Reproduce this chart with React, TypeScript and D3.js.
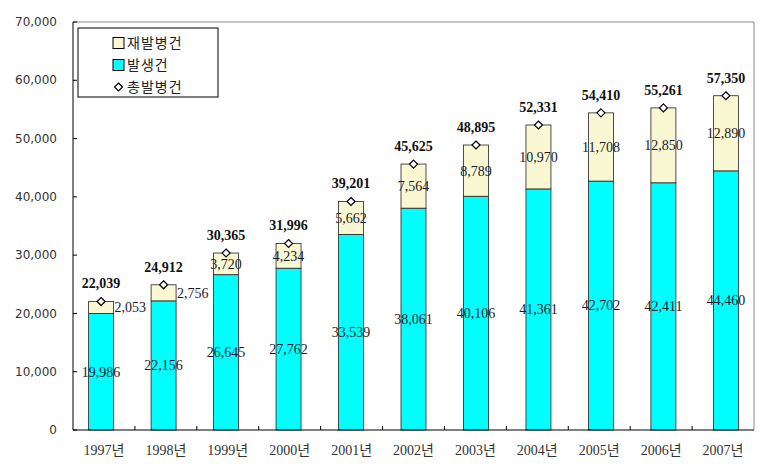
import React from "react";
import * as d3 from "d3";

const years = ["1997", "1998", "1999", "2000", "2001", "2002", "2003", "2004", "2005", "2006", "2007"];
const occurrence = [19986, 22156, 26645, 27762, 33539, 38061, 40106, 41361, 42702, 42411, 44460];
const recurrence = [2053, 2756, 3720, 4234, 5662, 7564, 8789, 10970, 11708, 12850, 12890];
const totals = [22039, 24912, 30365, 31996, 39201, 45625, 48895, 52331, 54410, 55261, 57350];
const yTicks = [0, 10000, 20000, 30000, 40000, 50000, 60000, 70000];
const legendLabels = ["재발병건", "발생건", "총발병건"];

const W = 770, H = 468;
const M = { left: 73, right: 754, top: 22, bottom: 430 };

const COL_BLUE = "#00FFFF";
const COL_YEL = "#FAF8D2";
const SERIF = "'Liberation Serif', 'Noto Sans CJK KR', serif";
const fmt = d3.format(",");

export default function App() {
  const x = d3.scaleBand<string>().domain(years).range([M.left, M.right]).paddingInner(0.6).paddingOuter(0.25);
  const xb = d3.scaleBand<string>().domain(years).range([M.left, M.right]);
  const y = d3.scaleLinear().domain([0, 70000]).range([M.bottom, M.top]);
  const bw = x.bandwidth();

  const dm = (cx: number, cy: number, r: number) =>
    `M${cx},${cy - r}L${cx + r},${cy}L${cx},${cy + r}L${cx - r},${cy}Z`;

  return (
    <svg width={W} height={H} style={{ position: "absolute", left: 0, top: 0, background: "#fff" }}>
      {/* plot border top/right */}
      <line x1={M.left} x2={M.right} y1={y(70000)} y2={y(70000)} stroke="#888" strokeWidth={1} />
      <line x1={M.right} x2={M.right} y1={y(70000)} y2={M.bottom} stroke="#888" strokeWidth={1} />

      {/* bars */}
      {years.map((yr, i) => {
        const x0 = x(yr)!;
        const cx = x0 + bw / 2;
        const yOcc = y(occurrence[i]);
        const yTot = y(occurrence[i] + recurrence[i]);
        const small = recurrence[i] < 3000;
        return (
          <g key={yr}>
            <rect x={x0} y={yOcc} width={bw} height={M.bottom - yOcc} fill={COL_BLUE} stroke="#222" strokeWidth={0.8} />
            <rect x={x0} y={yTot} width={bw} height={yOcc - yTot} fill={COL_YEL} stroke="#222" strokeWidth={0.8} />
            <text x={cx} y={y(occurrence[i] / 2)} dy="0.35em" textAnchor="middle" fontFamily={SERIF} fontSize={14} fill="#1a1a2a">
              {fmt(occurrence[i])}
            </text>
            <text
              x={small ? x0 + bw + 1 : cx}
              y={(yOcc + yTot) / 2}
              dy="0.35em"
              textAnchor={small ? "start" : "middle"}
              fontFamily={SERIF}
              fontSize={14}
              fill="#1a1a2a"
            >
              {fmt(recurrence[i])}
            </text>
            <path d={dm(cx, y(totals[i]), 4)} fill="#fff" stroke="#000" strokeWidth={1.2} />
            <text x={cx} y={y(totals[i]) - 18} dy="0.35em" textAnchor="middle" fontFamily={SERIF} fontSize={14} fontWeight="bold" fill="#111">
              {fmt(totals[i])}
            </text>
          </g>
        );
      })}

      {/* axes */}
      <line x1={M.left} x2={M.left} y1={y(70000)} y2={M.bottom} stroke="#000" strokeWidth={1} />
      <line x1={M.left} x2={M.right} y1={M.bottom} y2={M.bottom} stroke="#000" strokeWidth={1} />
      {yTicks.map((t) => (
        <g key={t}>
          <line x1={M.left} x2={M.left + 4} y1={y(t)} y2={y(t)} stroke="#000" />
          <text x={57} y={y(t)} dy="0.35em" textAnchor="end" fontFamily="'DejaVu Sans', sans-serif" fontSize={12} fill="#333">
            {fmt(t)}
          </text>
        </g>
      ))}
      {years.map((yr, i) =>
        i > 0 ? (
          <line key={"t" + yr} x1={xb(yr)!} x2={xb(yr)!} y1={M.bottom} y2={M.bottom - 4} stroke="#000" />
        ) : null
      )}
      {years.map((yr) => (
        <text key={"l" + yr} x={xb(yr)! + xb.bandwidth() / 2} y={450} dy="0.35em" textAnchor="middle" fontFamily={SERIF} fontSize={14} fill="#333">
          {yr}
          <tspan fontFamily="'Noto Sans CJK KR', sans-serif" fontSize={14}>년</tspan>
        </text>
      ))}

      {/* legend */}
      <rect x={78} y={28} width={140} height={69} fill="#fff" stroke="#000" strokeWidth={1} />
      {legendLabels.map((lab, i) => {
        const cy = 43 + i * 22;
        return (
          <g key={lab}>
            {i < 2 ? (
              <rect x={113} y={cy - 5.5} width={11} height={11} fill={i === 0 ? COL_YEL : COL_BLUE} stroke="#000" strokeWidth={1} />
            ) : (
              <path d={dm(118.5, cy, 4)} fill="#fff" stroke="#000" strokeWidth={1.2} />
            )}
            <text x={127} y={cy} dy="0.35em" fontFamily="'Noto Sans CJK KR', sans-serif" fontSize={14} letterSpacing={1} fill="#222">
              {lab}
            </text>
          </g>
        );
      })}
    </svg>
  );
}
